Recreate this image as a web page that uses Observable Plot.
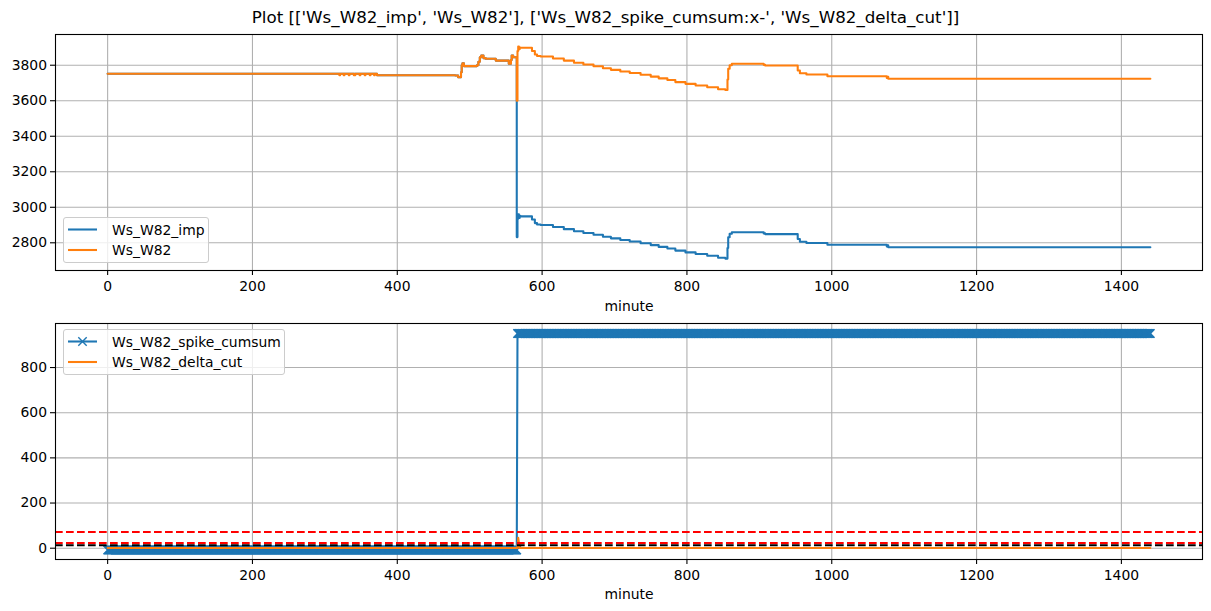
<!DOCTYPE html>
<html><head><meta charset="utf-8">
<script src="https://cdn.jsdelivr.net/npm/d3@7"></script>
<script src="https://cdn.jsdelivr.net/npm/@observablehq/plot@0.6"></script>
<style>
body{margin:0;background:#fff;font-family:"DejaVu Sans",sans-serif;}
#wrap{position:relative;width:1211px;height:611px;overflow:hidden;background:#fff;}
#wrap svg.plot{position:absolute;left:0;}
#title{position:absolute;left:0;width:1211px;top:7px;line-height:20px;text-align:center;font-size:16.7px;color:#000;white-space:pre;}
.legend{position:absolute;background:rgba(255,255,255,0.8);border:1px solid #cccccc;border-radius:3px;box-sizing:border-box;font-size:13.9px;color:#000;}
.legend svg{position:absolute;left:0;top:0;}
.legend span{position:absolute;left:48px;line-height:16px;white-space:pre;}
</style>
</head><body>
<div id="wrap">
<div id="title">Plot [['Ws_W82_imp', 'Ws_W82'], ['Ws_W82_spike_cumsum:x-', 'Ws_W82_delta_cut']]</div>
</div>
<script>
// ---------- data ----------
const xTicks = [0, 200, 400, 600, 800, 1000, 1200, 1400];
const topYTicks = [2800, 3000, 3200, 3400, 3600, 3800];
const bottomYTicks = [0, 200, 400, 600, 800];

// Ws_W82 (breakpoints, minute -> value, held until next breakpoint)
const w82Minutes = [0, 320, 321, 326, 327, 333, 334, 340, 342, 348, 349, 355, 356, 362, 363, 368, 369, 372,
  480, 484, 488, 489, 490, 492, 510, 512, 514, 516, 519, 522, 536, 554, 557, 558, 560, 565, 566, 567, 568, 569, 570,
  586, 590, 593, 598, 615, 630, 644, 657, 671, 684, 695, 708, 721, 736, 750, 761, 773, 784, 798, 812, 828, 843, 853,
  856, 857, 859, 862, 906, 908, 953, 956, 965, 994, 1076, 1077, 1078, 1440];
const w82Values = [3752, 3744, 3752, 3744, 3752, 3744, 3752, 3744, 3752, 3744, 3752, 3744, 3752, 3744, 3752, 3744, 3752, 3744,
  3742, 3732, 3760, 3800, 3811, 3795, 3800, 3820, 3845, 3855, 3840, 3836, 3826, 3808, 3830, 3855, 3845, 3600, 3880, 3905, 3890, 3900, 3898,
  3880, 3860, 3852, 3849, 3838, 3826, 3814, 3804, 3794, 3783, 3774, 3765, 3756, 3746, 3736, 3726, 3717, 3705, 3695, 3686, 3676, 3665, 3660,
  3720, 3780, 3800, 3808, 3802, 3798, 3770, 3755, 3748, 3738, 3728, 3735, 3724, 3724];

// Ws_W82_imp
const impMinutes = [0, 372, 480, 484, 488, 489, 490, 492, 510, 512, 514, 516, 519, 522, 536, 554, 557, 558, 560, 565, 566, 567, 568, 569, 570,
  586, 590, 593, 598, 615, 630, 644, 657, 671, 684, 695, 708, 721, 736, 750, 761, 773, 784, 798, 812, 828, 843, 853,
  856, 857, 859, 862, 906, 908, 953, 956, 965, 994, 1076, 1077, 1078, 1440];
const impValues = [3752, 3744, 3742, 3732, 3760, 3800, 3811, 3795, 3800, 3820, 3845, 3855, 3840, 3836, 3826, 3808, 3830, 3855, 3845, 2832, 2935, 2960, 2940, 2952, 2949,
  2931, 2911, 2903, 2900, 2889, 2877, 2865, 2855, 2845, 2834, 2825, 2816, 2807, 2797, 2787, 2777, 2768, 2756, 2746, 2737, 2727, 2716, 2711,
  2771, 2831, 2851, 2859, 2853, 2849, 2821, 2806, 2799, 2789, 2779, 2786, 2775, 2775];

// Ws_W82_spike_cumsum: constant runs (first minute, last minute, value), one sample per minute
const cumsumRunStart = [0, 566];
const cumsumRunEnd = [565, 1440];
const cumsumRunValue = [-8, 951];

// Ws_W82_delta_cut
const deltaMinutes = [0, 566, 567, 569, 1440];
const deltaValues = [1, 1, 46, 1, 1];

// threshold lines
const redThresholds = [72, 23];
const blackThresholds = [13];

// ---------- build ----------
const w82 = w82Minutes.map((m, i) => ({minute: m, value: w82Values[i]}));
const imp = impMinutes.map((m, i) => ({minute: m, value: impValues[i]}));
const cumsum = [];
cumsumRunStart.forEach((s, k) => { for (let m = s; m <= cumsumRunEnd[k]; m++) cumsum.push({minute: m, value: cumsumRunValue[k]}); });
const delta = deltaMinutes.map((m, i) => ({minute: m, value: deltaValues[i]}));

const BLUE = "#1f77b4", ORANGE = "#ff7f0e", GRID = "#b0b0b0";
const style = {fontFamily: "DejaVu Sans", fontSize: "13.9px", color: "black", background: "transparent", overflow: "visible"};
const fmt = d => String(d);
const gridOpts = {stroke: GRID, strokeOpacity: 1, strokeWidth: 1.1};
const lw = 2.08;

const topPlot = Plot.plot({
  width: 1211, height: 316, marginLeft: 55, marginRight: 9, marginTop: 34, marginBottom: 46,
  style,
  x: {domain: [-72, 1512]},
  y: {domain: [2644, 3973]},
  marks: [
    Plot.gridX(xTicks, gridOpts),
    Plot.gridY(topYTicks, gridOpts),
    Plot.line(imp, {x: "minute", y: "value", stroke: BLUE, strokeWidth: lw, curve: "step-after", clip: true}),
    Plot.line(w82, {x: "minute", y: "value", stroke: ORANGE, strokeWidth: lw, curve: "step-after", clip: true}),
    Plot.axisX(xTicks, {tickSize: 5, tickPadding: 6, tickFormat: fmt, label: null, strokeWidth: 1.1}),
    Plot.axisY(topYTicks, {tickSize: 5, tickPadding: 3.5, tickFormat: fmt, label: null, strokeWidth: 1.1}),
    Plot.text(["minute"], {frameAnchor: "bottom", lineAnchor: "middle", dy: 36, text: d => d, fontSize: 13.9}),
    Plot.frame({stroke: "black", strokeWidth: 1.1})
  ]
});
topPlot.classList.add("plot");
topPlot.style.top = "0px";

const bottomPlot = Plot.plot({
  width: 1211, height: 295, marginLeft: 55, marginRight: 9, marginTop: 7, marginBottom: 52,
  style,
  x: {domain: [-72, 1512]},
  y: {domain: [-50, 995]},
  marks: [
    Plot.gridX(xTicks, gridOpts),
    Plot.gridY(bottomYTicks, gridOpts),
    Plot.line(cumsum, {x: "minute", y: "value", stroke: BLUE, strokeWidth: lw}),
    Plot.dot(cumsum, {x: "minute", y: "value", symbol: "times", r: 3.9, stroke: BLUE, strokeWidth: 1.4}),
    Plot.line(delta, {x: "minute", y: "value", stroke: ORANGE, strokeWidth: lw}),
    Plot.ruleY(redThresholds, {stroke: "red", strokeWidth: lw, strokeDasharray: "7.7,3.3"}),
    Plot.ruleY(blackThresholds, {stroke: "black", strokeWidth: lw, strokeDasharray: "7.7,3.3"}),
    Plot.axisX(xTicks, {tickSize: 5, tickPadding: 6, tickFormat: fmt, label: null, strokeWidth: 1.1}),
    Plot.axisY(bottomYTicks, {tickSize: 5, tickPadding: 3.5, tickFormat: fmt, label: null, strokeWidth: 1.1}),
    Plot.text(["minute"], {frameAnchor: "bottom", lineAnchor: "middle", dy: 35, text: d => d, fontSize: 13.9}),
    Plot.frame({stroke: "black", strokeWidth: 1.1})
  ]
});
bottomPlot.classList.add("plot");
bottomPlot.style.top = "316px";

const wrap = document.getElementById("wrap");
wrap.appendChild(topPlot);
wrap.appendChild(bottomPlot);

// ---------- legends ----------
function legend(left, top, width, rows) {
  const div = document.createElement("div");
  div.className = "legend";
  Object.assign(div.style, {left: left + "px", top: top + "px", width: width + "px", height: "46px"});
  const ns = "http://www.w3.org/2000/svg";
  const svg = document.createElementNS(ns, "svg");
  svg.setAttribute("width", width); svg.setAttribute("height", 46);
  rows.forEach((r, i) => {
    const cy = 11.5 + i * 20.5;
    const ln = document.createElementNS(ns, "line");
    ln.setAttribute("x1", 4); ln.setAttribute("x2", 33); ln.setAttribute("y1", cy); ln.setAttribute("y2", cy);
    ln.setAttribute("stroke", r.color); ln.setAttribute("stroke-width", lw);
    svg.appendChild(ln);
    if (r.marker) {
      const p = document.createElementNS(ns, "path");
      const cx = 18.5, h = 4.2;
      p.setAttribute("d", `M${cx-h},${cy-h}L${cx+h},${cy+h}M${cx-h},${cy+h}L${cx+h},${cy-h}`);
      p.setAttribute("stroke", r.color); p.setAttribute("stroke-width", 1.4);
      svg.appendChild(p);
    }
    const sp = document.createElement("span");
    sp.textContent = r.label;
    sp.style.top = (cy - 8) + "px";
    div.appendChild(sp);
  });
  div.insertBefore(svg, div.firstChild);
  wrap.appendChild(div);
}
legend(63, 217, 146, [{label: "Ws_W82_imp", color: BLUE}, {label: "Ws_W82", color: ORANGE}]);
legend(63, 329, 222, [{label: "Ws_W82_spike_cumsum", color: BLUE, marker: true}, {label: "Ws_W82_delta_cut", color: ORANGE}]);
</script>
</body></html>
